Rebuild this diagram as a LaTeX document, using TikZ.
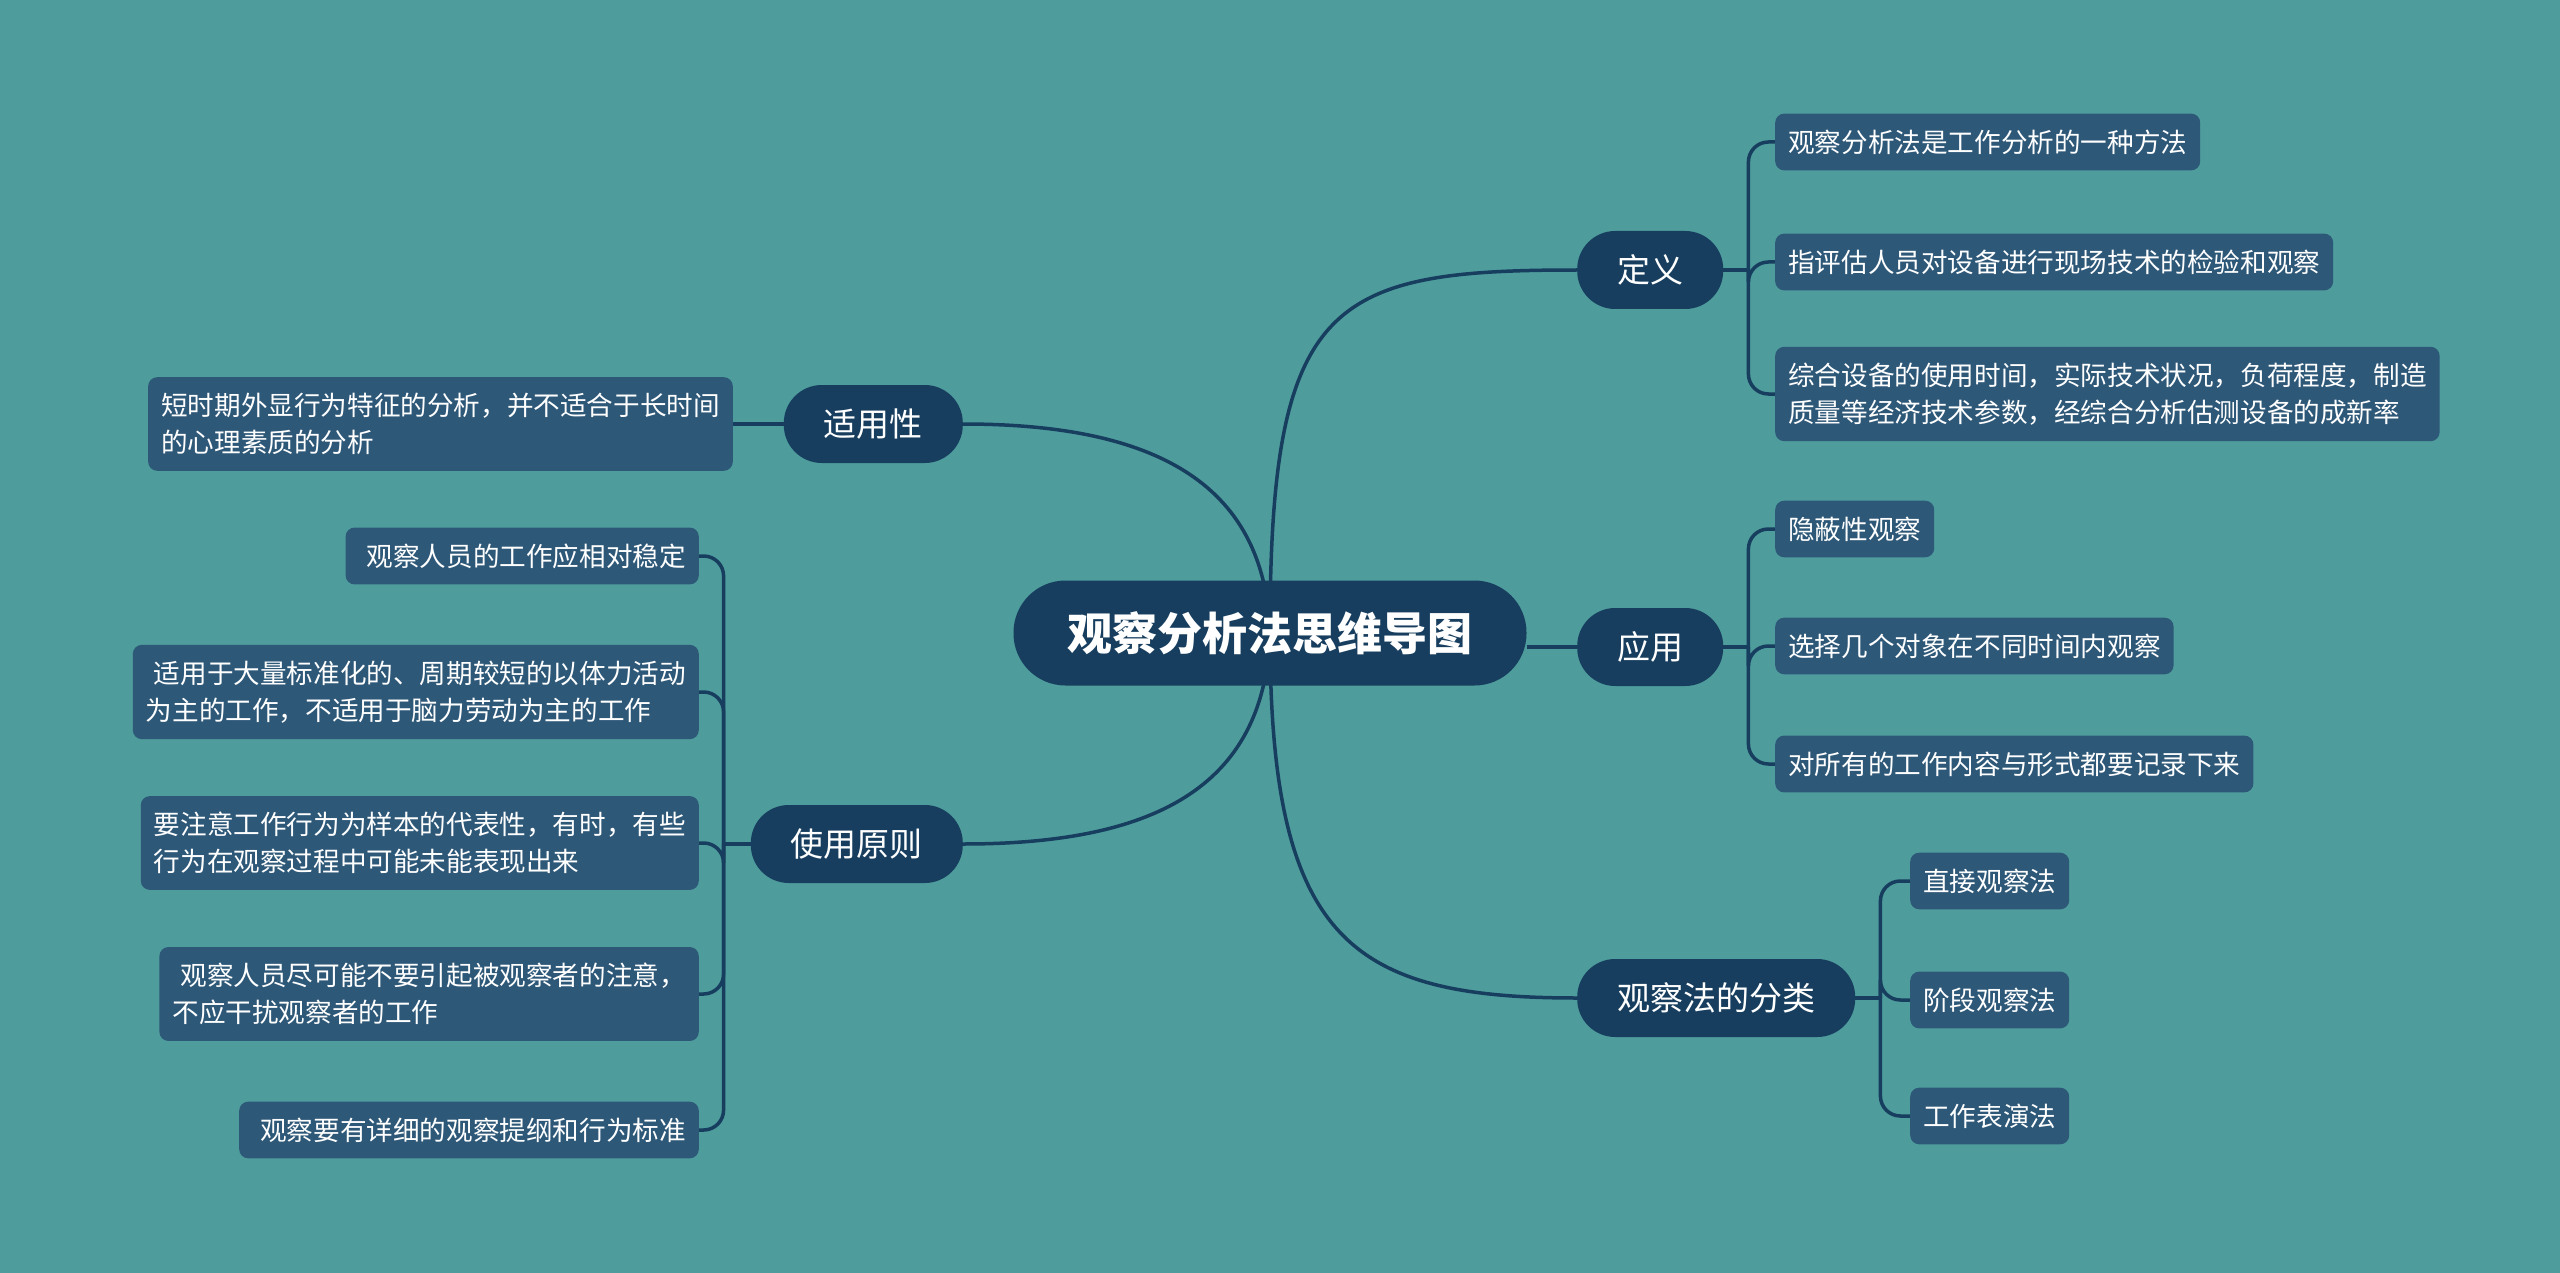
\documentclass[tikz,border=0pt]{standalone}
\usepackage{fontspec}
\setmainfont{Noto Sans CJK SC}
\usepackage{tikz}
\usetikzlibrary{positioning,backgrounds}
\definecolor{bgteal}{HTML}{4E9C9C}
\definecolor{topicnavy}{HTML}{173E5E}
\definecolor{leafblue}{HTML}{2E5878}
\tikzstyle{central}=[rectangle, fill=topicnavy, rounded corners=52pt, minimum height=105pt,
        minimum width=513pt, text=white, font=\fontsize{45}{54}\selectfont\bfseries]
\tikzstyle{topic}=[rectangle, fill=topicnavy, rounded corners=38pt, minimum height=78pt,
        inner xsep=40pt, text=white, font=\fontsize{33}{40}\selectfont]
\tikzstyle{leaf}=[rectangle, fill=leafblue, rounded corners=9pt, inner xsep=13pt, inner ysep=16pt,
        text=white, align=left, font=\fontsize{26.6}{37}\selectfont]
\tikzstyle{link}=[draw=topicnavy, line width=3.5pt]

\begin{document}
\begin{tikzpicture}[x=1pt, y=-1pt]

	\useasboundingbox (0,0) rectangle (2560,1273);

	\node (Root) [central] at (1270,633) {观察分析法思维导图};

	% right side
	\node (Definition) [topic, anchor=west] at (1577,270) {定义};
	\node (Application) [topic, anchor=west] at (1577,647) {应用};
	\node (Types) [topic, anchor=west] at (1577,998) {观察法的分类};

	\node (DefA) [leaf, anchor=west] at (1775,142) {观察分析法是工作分析的一种方法};
	\node (DefB) [leaf, anchor=west] at (1775,262) {指评估人员对设备进行现场技术的检验和观察};
	\node (DefC) [leaf, anchor=west] at (1775,394)
        {综合设备的使用时间，实际技术状况，负荷程度，制造\\质量等经济技术参数，经综合分析估测设备的成新率};

	\node (AppA) [leaf, anchor=west] at (1775,529) {隐蔽性观察};
	\node (AppB) [leaf, anchor=west] at (1775,646) {选择几个对象在不同时间内观察};
	\node (AppC) [leaf, anchor=west] at (1775,764) {对所有的工作内容与形式都要记录下来};

	\node (TypeA) [leaf, anchor=west] at (1910,881) {直接观察法};
	\node (TypeB) [leaf, anchor=west] at (1910,1000) {阶段观察法};
	\node (TypeC) [leaf, anchor=west] at (1910,1116) {工作表演法};

	% left side
	\node (Suitability) [topic, anchor=east] at (963,424) {适用性};
	\node (UsePrinciple) [topic, anchor=east] at (963,844) {使用原则};

	\node (SuitA) [leaf, anchor=east] at (733,424)
        {短时期外显行为特征的分析，并不适合于长时间\\的心理素质的分析};

	\node (UseA) [leaf, anchor=east] at (699,556) {\hspace*{0.3em}观察人员的工作应相对稳定};
	\node (UseB) [leaf, anchor=east] at (699,692)
        {\hspace*{0.3em}适用于大量标准化的、周期较短的以体力活动\\为主的工作，不适用于脑力劳动为主的工作};
	\node (UseC) [leaf, anchor=east] at (699,843)
        {要注意工作行为为样本的代表性，有时，有些\\行为在观察过程中可能未能表现出来};
	\node (UseD) [leaf, anchor=east] at (699,994)
        {\hspace*{0.3em}观察人员尽可能不要引起被观察者的注意，\\不应干扰观察者的工作};
	\node (UseE) [leaf, anchor=east] at (699,1130) {\hspace*{0.3em}观察要有详细的观察提纲和行为标准};

	\coordinate (DefJoint) at ([xshift=25pt]Definition.east);
	\coordinate (AppJoint) at ([xshift=25pt]Application.east);
	\coordinate (TypeJoint) at ([xshift=25pt]Types.east);
	\coordinate (UseJoint) at ([xshift=-27pt]UsePrinciple.west);

	\begin{scope}[on background layer]
	\fill[bgteal] (0,0) rectangle (2560,1273);

	\draw[link] (Root.center) .. controls +(0,-333) and +(-247,0) .. (Definition.west);
	\draw[link] (Root.center) .. controls +(0,307) and +(-227,0) .. (Types.west);
	\draw[link] (Application.west -| Root.east) -- (Application.west);
	\draw[link] (Root.center) .. controls +(-5,-153) and +(187,0) .. (Suitability.east);
	\draw[link] (Root.center) .. controls +(-5,157) and +(187,0) .. (UsePrinciple.east);

	\draw[link] (Definition.east) -- (DefJoint);
	\draw[link] (Application.east) -- (AppJoint);
	\draw[link] (Types.east) -- (TypeJoint);
	\draw[link] (UsePrinciple.west) -- (UseJoint);
	\draw[link] (Suitability.west) -- (SuitA.east);

	\foreach \leafname in {DefA,DefB,DefC}
		\draw[link, rounded corners=20pt] (DefJoint) |- (\leafname.west);
	\foreach \leafname in {AppA,AppB,AppC}
		\draw[link, rounded corners=20pt] (AppJoint) |- (\leafname.west);
	\foreach \leafname in {TypeA,TypeB,TypeC}
		\draw[link, rounded corners=20pt] (TypeJoint) |- (\leafname.west);
	\foreach \leafname in {UseA,UseB,UseC,UseD,UseE}
		\draw[link, rounded corners=20pt] (UseJoint) |- (\leafname.east);
	\end{scope}

\end{tikzpicture}
\end{document}
